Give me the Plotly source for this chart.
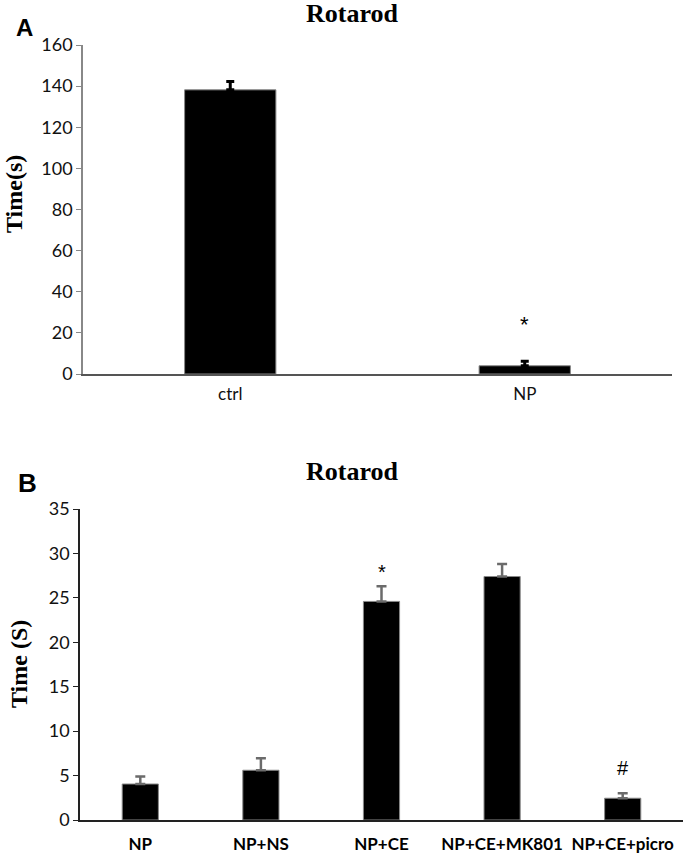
import plotly.graph_objects as go

# Panel A data
a_categories = ["ctrl", "NP"]
a_values = [138.2, 4.0]
a_errors = [4.0, 2.2]
a_sig_labels = ["", "*"]
a_sig_y = [None, 24]
a_yticks = [0, 20, 40, 60, 80, 100, 120, 140, 160]

# Panel B data
b_categories = ["NP", "NP+NS", "NP+CE", "NP+CE+MK801", "NP+CE+picro"]
b_values = [4.05, 5.6, 24.6, 27.4, 2.45]
b_errors = [0.85, 1.35, 1.7, 1.4, 0.55]
b_sig_labels = ["", "", "*", "", "#"]
b_sig_y = [None, None, 27.9, None, 5.8]
b_yticks = [0, 5, 10, 15, 20, 25, 30, 35]

W, H = 685, 853
def px(x): return x / W
def py(y): return (H - y) / H

sans = "Lato, Carlito, sans-serif"
serif = "Liberation Serif, Times New Roman, serif"
arial = "Liberation Sans, Arial, sans-serif"

fig = go.Figure()
fig.add_trace(go.Bar(
    x=a_categories, y=a_values, width=0.31,
    marker=dict(color="black", line=dict(color="#888", width=1)),
    error_y=dict(type="data", array=a_errors, arrayminus=[0]*len(a_errors),
                 symmetric=False, color="black", thickness=3, width=4),
    xaxis="x", yaxis="y", showlegend=False,
))
fig.add_trace(go.Bar(
    x=b_categories, y=b_values, width=0.30,
    marker=dict(color="black", line=dict(color="#888", width=1)),
    error_y=dict(type="data", array=b_errors, arrayminus=[0]*len(b_errors),
                 symmetric=False, color="#6b6b6b", thickness=2.5, width=5),
    xaxis="x2", yaxis="y2", showlegend=False,
))

annotations = []
for c, lab, yv in zip(a_categories, a_sig_labels, a_sig_y):
    if lab:
        annotations.append(dict(x=c, y=yv, xref="x", yref="y", text=lab, showarrow=False,
                                font=dict(family=arial, size=22, color="black")))
for c, lab, yv in zip(b_categories, b_sig_labels, b_sig_y):
    if lab:
        annotations.append(dict(x=c, y=yv, xref="x2", yref="y2", text=lab, showarrow=False,
                                font=dict(family=arial, size=20, color="black")))

annotations += [
    dict(x=px(353), y=py(14), xref="paper", yref="paper", text="<b>Rotarod</b>", showarrow=False,
         font=dict(family=serif, size=26, color="black"), xanchor="center", yanchor="middle"),
    dict(x=px(352), y=py(471), xref="paper", yref="paper", text="<b>Rotarod</b>", showarrow=False,
         font=dict(family=serif, size=26, color="black"), xanchor="center", yanchor="middle"),
    dict(x=px(25), y=py(27), xref="paper", yref="paper", text="<b>A</b>", showarrow=False,
         font=dict(family=arial, size=24, color="black"), xanchor="center", yanchor="middle"),
    dict(x=px(27), y=py(483), xref="paper", yref="paper", text="<b>B</b>", showarrow=False,
         font=dict(family=arial, size=26, color="black"), xanchor="center", yanchor="middle"),
    dict(x=px(14), y=py(194), xref="paper", yref="paper", text="<b>Time(s)</b>", showarrow=False,
         textangle=-90, font=dict(family=serif, size=24, color="black"),
         xanchor="center", yanchor="middle"),
    dict(x=px(19), y=py(664), xref="paper", yref="paper", text="<b>Time (S)</b>", showarrow=False,
         textangle=-90, font=dict(family=serif, size=24, color="black"),
         xanchor="center", yanchor="middle"),
]

fig.update_layout(
    width=W, height=H,
    margin=dict(l=0, r=0, t=0, b=0, autoexpand=False),
    paper_bgcolor="white", plot_bgcolor="white",
    annotations=annotations,
    xaxis=dict(domain=[px(83), px(672)], anchor="y", range=[-0.5, 1.5], automargin=False,
               showline=True, linecolor="#555", linewidth=1.5, ticks="", ticklabelstandoff=4,
               tickfont=dict(family=sans, size=17, color="#111"),
               showgrid=False, zeroline=False),
    yaxis=dict(domain=[py(374), py(45)], anchor="x", range=[0, 160], automargin=False,
               tickvals=a_yticks, showline=True, linecolor="#888", linewidth=1.5,
               ticks="outside", ticklen=5, tickcolor="#888",
               tickfont=dict(family=sans, size=18, color="#111"),
               showgrid=False, zeroline=False),
    xaxis2=dict(domain=[px(80), px(683)], anchor="y2", range=[-0.5, 4.5], automargin=False,
                showline=True, linecolor="#222", linewidth=1.5, ticks="", ticklabelstandoff=8,
                tickfont=dict(family=sans, size=17, color="black", weight="bold"),
                showgrid=False, zeroline=False),
    yaxis2=dict(domain=[py(820), py(509)], anchor="x2", range=[0, 35], automargin=False,
                tickvals=b_yticks, showline=True, linecolor="#222", linewidth=1.5,
                ticks="outside", ticklen=5, tickcolor="#222",
                tickfont=dict(family=sans, size=18, color="#111"),
                showgrid=False, zeroline=False),
)

fig.write_html("out.html", config={"displayModeBar": False},
               post_script="document.body.style.margin='0';document.body.style.overflow='hidden';")
